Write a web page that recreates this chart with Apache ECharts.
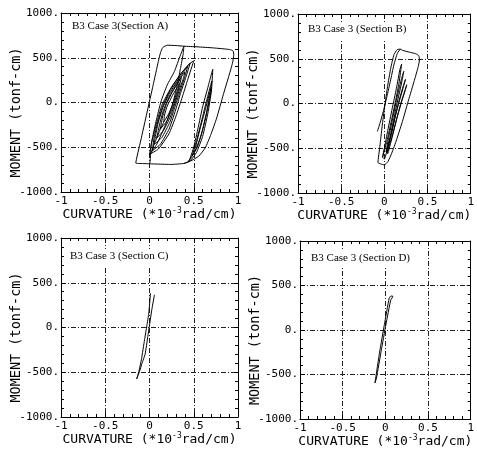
<!DOCTYPE html>
<html><head><meta charset="utf-8">
<script src="https://cdn.jsdelivr.net/npm/echarts@6/dist/echarts.min.js"></script>
<style>html,body{margin:0;padding:0;background:#fff}#c{width:477px;height:452px}</style>
</head><body><div id="c"></div>
<script>
// ---------- data ----------
const xTicks = [-1, -0.5, 0, 0.5, 1];
const yTicks = [-1000, -500, 0, 500, 1000];
const panelTitles = ['B3 Case 3(Section A)', 'B3 Case 3 (Section B)', 'B3 Case 3 (Section C)', 'B3 Case 3 (Section D)'];
const xAxisTitle = ['CURVATURE (*10', '-3', 'rad/cm)'];
const yAxisTitle = 'MOMENT (tonf-cm)';

// Section A: dense central loops
const curveA_core = [
  [0.16,-220],[0.22,-120],[0.27,0],[0.31,120],[0.34,220],[0.32,180],[0.26,80],[0.2,-40],[0.17,-140],[0.16,-220],
  [0.12,-300],[0.2,-200],[0.26,-60],[0.31,90],[0.34,190],[0.36,280],
  [0.33,230],[0.26,120],[0.19,-20],[0.15,-150],[0.12,-300],
  [0.08,-400],[0.16,-310],[0.24,-150],[0.29,0],[0.34,150],[0.38,260],[0.40,340],
  [0.37,300],[0.3,200],[0.22,60],[0.16,-80],[0.12,-220],[0.08,-400],
  [0.05,-470],[0.14,-390],[0.23,-220],[0.29,-40],[0.35,140],[0.4,290],[0.43,400],
  [0.4,360],[0.32,250],[0.22,90],[0.15,-60],[0.1,-220],[0.07,-360],[0.05,-470],
  [0.03,-540],[0.12,-470],[0.22,-300],[0.29,-100],[0.35,100],[0.41,280],[0.46,440],
  [0.43,410],[0.34,300],[0.23,130],[0.15,-40],[0.09,-230],[0.05,-400],[0.03,-540],
  [0.0,-580],[0.1,-520],[0.22,-350],[0.3,-150],[0.37,60],[0.43,250],[0.5,465],
  [0.46,440],[0.36,330],[0.24,160],[0.14,-30],[0.08,-230],[0.03,-420],[0.0,-580]
];
// Section A: large excursion and outer loop
const curveA_outer = [
  [0.0,-580],[0.08,-470],[0.18,-250],[0.26,-20],[0.31,180],[0.35,380],[0.38,540],[0.389,629],
  [0.35,530],[0.28,344],[0.2,196],[0.13,11],[0.074,-211],[0.019,-470],[0.0,-685],
  [-0.08,-682],[-0.155,-676],
  [-0.1,-430],[-0.03,-120],[0.04,190],[0.1,460],[0.125,560],[0.15,615],[0.2,640],[0.3,636],[0.389,629],
  [0.537,622],[0.722,610],[0.907,592],[0.944,577],
  [0.952,529],[0.937,437],[0.9,307],[0.833,85],[0.759,-174],[0.693,-359],[0.63,-507],[0.556,-600],[0.463,-655],[0.389,-681],
  [0.241,-692],[0.093,-688],[0.0,-685]
];
// Section A: loops on the right
const curveA_right = [
  [0.389,-681],[0.46,-650],[0.53,-560],[0.6,-380],[0.66,-120],[0.70,130],[0.715,370],
  [0.70,320],[0.66,170],[0.6,-50],[0.55,-280],[0.5,-500],[0.46,-620],[0.44,-660],
  [0.5,-570],[0.58,-380],[0.64,-130],[0.68,80],[0.705,240],
  [0.69,190],[0.64,0],[0.58,-240],[0.52,-470],[0.48,-600],
  [0.54,-500],[0.61,-270],[0.66,-60],[0.69,100],[0.70,170],
  [0.68,110],[0.63,-80],[0.57,-300],[0.52,-500]
];
// Section B
const curveB_outer = [
  [0.185,608],[0.215,593],[0.289,574],[0.363,556],[0.4,533],[0.407,489],
  [0.393,414],[0.344,246],[0.281,41],[0.215,-183],[0.141,-407],[0.085,-556],[0.041,-649],[0.0,-686],[-0.044,-675],[-0.074,-660],
  [-0.052,-481],[-0.026,-257],[0.004,-34],[0.037,190],[0.074,395],[0.111,545],[0.148,601],[0.185,608],
  [0.15,560],[0.11,430],[0.07,250],[0.03,80],[-0.01,-80],[-0.05,-220],[-0.081,-313]
];
const curveB_core = [
  [-0.02,-600],[0.03,-420],[0.08,-200],[0.13,30],[0.17,230],[0.2,440],
  [0.18,380],[0.14,170],[0.09,-60],[0.04,-300],[0.0,-500],[-0.02,-600],
  [0.0,-620],[0.06,-400],[0.11,-170],[0.16,60],[0.2,230],[0.225,360],
  [0.2,280],[0.15,80],[0.1,-150],[0.05,-380],[0.02,-540],
  [0.08,-350],[0.13,-130],[0.18,50],[0.22,180],[0.245,270],
  [0.22,200],[0.17,30],[0.12,-170],[0.07,-380],[0.03,-560],
  [0.1,-330],[0.15,-150],[0.2,20],[0.24,140],[0.26,210],
  [0.24,150],[0.19,0],[0.14,-180],[0.09,-380],[0.04,-560]
];
// Section C
const curveC = [
  [0.011,385],[-0.008,160],[-0.03,20],[-0.056,-138],[-0.09,-350],[-0.12,-490],[-0.145,-575],
  [-0.113,-492],[-0.085,-400],[-0.05,-300],[-0.019,-101],[0.026,198],[0.056,366]
];
// Section D
const curveD = [
  [0.063,382],[0.044,354],[-0.011,62],[-0.067,-248],[-0.122,-595],
  [-0.104,-540],[-0.048,-230],[0.007,62],[0.063,336],[0.089,378],[0.063,382]
];

const panelSeries = [
  [curveA_core, curveA_outer, curveA_right],
  [curveB_outer, curveB_core],
  [curveC],
  [curveD]
];

// ---------- layout & style ----------
const grids = [
  {left: 61, top: 13, width: 177, height: 179},
  {left: 298, top: 14, width: 178, height: 179},
  {left: 61, top: 238, width: 177, height: 179},
  {left: 300, top: 241, width: 179, height: 179}
];
const titlePos = [[69, 19], [305, 22], [67, 249], [308, 251]];

const MONO = 'DejaVu Sans Mono';
const gridLine = {show: true, lineStyle: {color: '#222', width: 1, type: [5, 2, 1, 2]}};
const tickCommon = {show: true, inside: true, length: 4, lineStyle: {color: '#000'}};
const minorCommon = {show: true, splitNumber: 5, length: 3, lineStyle: {color: '#000'}};
const lineCommon = {show: true, onZero: false, lineStyle: {color: '#000', width: 1}};

const xAxes = [], yAxes = [], series = [], titles = [];
grids.forEach((g, i) => {
  xAxes.push({
    type: 'value', gridIndex: i, position: 'bottom',
    min: xTicks[0], max: xTicks[xTicks.length - 1], interval: xTicks[1] - xTicks[0],
    axisLine: lineCommon, axisTick: tickCommon, minorTick: minorCommon, splitLine: gridLine,
    axisLabel: {show: true, margin: 4, color: '#000', fontFamily: MONO, fontSize: 11,
      showMinLabel: true, showMaxLabel: true, formatter: v => String(v)},
    name: '{a|' + xAxisTitle[0] + '}{s|' + xAxisTitle[1] + '}{a|' + xAxisTitle[2] + '}',
    nameLocation: 'middle', nameGap: 15, nameMoveOverlap: false,
    nameTextStyle: {color: '#000', fontFamily: MONO, fontSize: 13,
      rich: {
        a: {fontFamily: MONO, fontSize: 13, color: '#000', lineHeight: 14, verticalAlign: 'bottom'},
        s: {fontFamily: MONO, fontSize: 8, color: '#000', lineHeight: 8, verticalAlign: 'top', padding: [0, 0, 9, 0]}
      }}
  });
  xAxes.push({
    type: 'value', gridIndex: i, position: 'top',
    min: xTicks[0], max: xTicks[xTicks.length - 1], interval: xTicks[1] - xTicks[0],
    axisLine: lineCommon, axisTick: tickCommon, minorTick: minorCommon,
    splitLine: {show: false}, axisLabel: {show: false}
  });
  yAxes.push({
    type: 'value', gridIndex: i, position: 'left',
    min: yTicks[0], max: yTicks[yTicks.length - 1], interval: yTicks[1] - yTicks[0],
    axisLine: lineCommon, axisTick: tickCommon, minorTick: minorCommon, splitLine: gridLine,
    axisLabel: {show: true, margin: 2, color: '#000', fontFamily: MONO, fontSize: 11,
      showMinLabel: true, showMaxLabel: true, formatter: v => v + '.'},
    name: yAxisTitle, nameLocation: 'middle', nameGap: 38, nameMoveOverlap: false,
    nameTextStyle: {color: '#000', fontFamily: MONO, fontSize: 13.5, padding: [0, 20, 0, 0]}
  });
  yAxes.push({
    type: 'value', gridIndex: i, position: 'right',
    min: yTicks[0], max: yTicks[yTicks.length - 1], interval: yTicks[1] - yTicks[0],
    axisLine: lineCommon, axisTick: tickCommon, minorTick: minorCommon,
    splitLine: {show: false}, axisLabel: {show: false}
  });
  titles.push({
    text: panelTitles[i], left: titlePos[i][0], top: titlePos[i][1],
    padding: [2, 3, 4, 3], backgroundColor: '#fff',
    textStyle: {fontFamily: 'Liberation Serif', fontSize: 11, fontWeight: 'normal', color: '#000'}
  });
  panelSeries[i].forEach(d => {
    series.push({
      type: 'line', xAxisIndex: 2 * i, yAxisIndex: 2 * i, data: d,
      showSymbol: false, symbol: 'none', smooth: 0.15, silent: true,
      lineStyle: {color: '#000', width: 1}, z: 3
    });
  });
});

const chart = echarts.init(document.getElementById('c'), null, {renderer: 'canvas'});
chart.setOption({
  animation: false,
  backgroundColor: '#fff',
  title: titles,
  grid: grids,
  xAxis: xAxes,
  yAxis: yAxes,
  series: series
});
</script>
</body></html>
